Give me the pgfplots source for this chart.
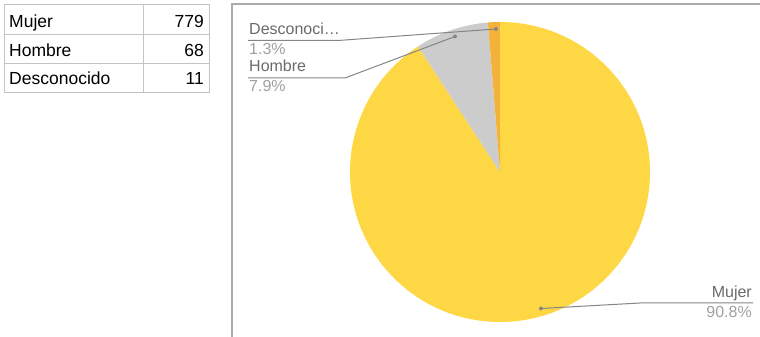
\documentclass[border=0pt]{standalone}
\usepackage{pgfplots}
\pgfplotsset{compat=1.18}
\usepackage{pgfplotstable}
\usepackage{fontspec}
\setmainfont{Liberation Sans}
\definecolor{pyellow}{HTML}{FDD844}
\definecolor{pgrey}{HTML}{CCCCCC}
\definecolor{porange}{HTML}{F4B23A}
\definecolor{lbl}{HTML}{6A6A6A}
\definecolor{lbllight}{HTML}{A0A0A0}
\definecolor{lline}{HTML}{858585}
\definecolor{tline}{HTML}{C4C4C4}
\definecolor{frame}{HTML}{ABABAB}
\pgfplotstableread{
name value
Mujer 779
Hombre 68
Desconocido 11
}\datatable
\pgfplotstablegetelem{0}{value}\of\datatable \let\vA\pgfplotsretval
\pgfplotstablegetelem{1}{value}\of\datatable \let\vB\pgfplotsretval
\pgfplotstablegetelem{2}{value}\of\datatable \let\vC\pgfplotsretval
\pgfmathsetmacro\tot{\vA+\vB+\vC}
\pgfmathsetmacro\aA{90-360*(\vA/\tot)}
\pgfmathsetmacro\aB{\aA-360*(\vB/\tot)}
\pgfmathsetmacro\aC{\aB-360*(\vC/\tot)}
\begin{document}
\begin{tikzpicture}
\begin{axis}[
  at={(0,0)}, anchor=south west,
  scale only axis, width=760pt, height=337pt,
  xmin=0, xmax=760, ymin=0, ymax=337,
  hide axis, clip=false]
% table
\draw[tline, line width=1pt] (axis cs:4,332) rectangle (axis cs:209,244);
\draw[tline, line width=1pt] (axis cs:4,302) -- (axis cs:209,302);
\draw[tline, line width=1pt] (axis cs:4,273) -- (axis cs:209,273);
\draw[tline, line width=1pt] (axis cs:143,332) -- (axis cs:143,244);
\node[anchor=base west, inner sep=0pt, font=\fontsize{17.5}{19}\selectfont] at (axis cs:9,309) {Mujer};
\node[anchor=base west, inner sep=0pt, font=\fontsize{17.5}{19}\selectfont] at (axis cs:9,280) {Hombre};
\node[anchor=base west, inner sep=0pt, font=\fontsize{17.5}{19}\selectfont] at (axis cs:9,252) {Desconocido};
\node[anchor=base east, inner sep=0pt, font=\fontsize{17.5}{19}\selectfont] at (axis cs:204,309) {\vA};
\node[anchor=base east, inner sep=0pt, font=\fontsize{17.5}{19}\selectfont] at (axis cs:204,280) {\vB};
\node[anchor=base east, inner sep=0pt, font=\fontsize{17.5}{19}\selectfont] at (axis cs:204,252) {\vC};
% frame
\draw[frame, line width=1.5pt] (axis cs:232,0) -- (axis cs:232,333) -- (axis cs:760,333);
% pie
\fill[pyellow] (axis cs:500,165) -- ++(90:150pt) arc[start angle=90, end angle=\aA, radius=150pt] -- cycle;
\fill[pgrey] (axis cs:500,165) -- ++(\aA:150pt) arc[start angle=\aA, end angle=\aB, radius=150pt] -- cycle;
\fill[porange] (axis cs:500,165) -- ++(\aB:150pt) arc[start angle=\aB, end angle=\aC, radius=150pt] -- cycle;
% leader lines
\draw[lline, line width=1pt] (axis cs:248,296.5) -- (axis cs:338,296.5) -- (axis cs:496,308);
\fill[lline] (axis cs:496,308) circle[radius=2pt];
\draw[lline, line width=1pt] (axis cs:248,259) -- (axis cs:345,259) -- (axis cs:455,300.5);
\fill[lline] (axis cs:455,300.5) circle[radius=2pt];
\draw[lline, line width=1pt] (axis cs:541,28.5) -- (axis cs:640,34) -- (axis cs:753,34);
\fill[lline] (axis cs:541,28.5) circle[radius=2pt];
% labels
\node[anchor=base west, inner sep=0pt, text=lbl, font=\fontsize{16}{18}\selectfont] at (axis cs:249,302) {Desconoci…};
\node[anchor=base west, inner sep=0pt, text=lbllight, font=\fontsize{16}{18}\selectfont] at (axis cs:249,282) {1.3\%};
\node[anchor=base west, inner sep=0pt, text=lbl, font=\fontsize{16}{18}\selectfont] at (axis cs:249,265) {Hombre};
\node[anchor=base west, inner sep=0pt, text=lbllight, font=\fontsize{16}{18}\selectfont] at (axis cs:249,245) {7.9\%};
\node[anchor=base east, inner sep=0pt, text=lbl, font=\fontsize{16}{18}\selectfont] at (axis cs:752,39) {Mujer};
\node[anchor=base east, inner sep=0pt, text=lbllight, font=\fontsize{16}{18}\selectfont] at (axis cs:752,19) {90.8\%};
\end{axis}
\pgfresetboundingbox
\useasboundingbox (0,0) rectangle (760pt,337pt);
\end{tikzpicture}
\end{document}
